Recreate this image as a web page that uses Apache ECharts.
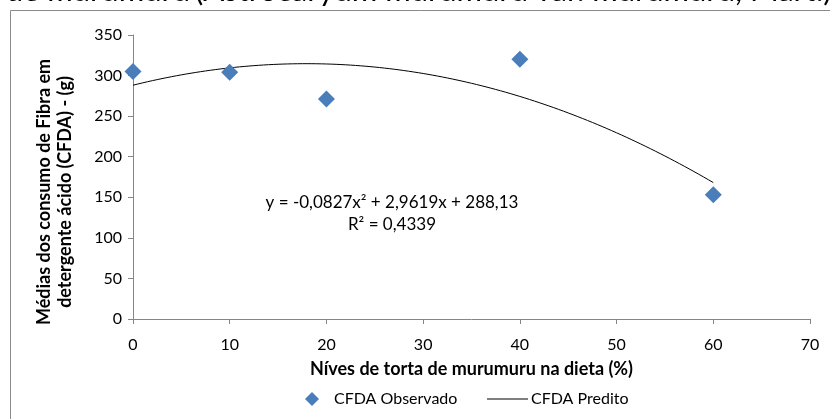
<!DOCTYPE html>
<html>
<head>
<meta charset="utf-8">
<script src="https://cdn.jsdelivr.net/npm/echarts@6/dist/echarts.min.js"></script>
<style>
  html, body { margin: 0; padding: 0; background: #fff; }
  #chart { width: 830px; height: 419px; }
</style>
</head>
<body>
<div id="chart"></div>
<script>
// Observed intake at each level of murumuru cake in the diet
const levels = [0, 10, 20, 40, 60];
const observed = [305, 304, 271, 320, 153];

// Quadratic regression shown on the chart: y = a*x^2 + b*x + c
const coefficients = [-0.0827, 2.9619, 288.13];
const rSquared = '0,4339';
const fitRange = [0, 60];

// Axis ticks
const xTicks = [0, 10, 20, 30, 40, 50, 60, 70];
const yTicks = [0, 50, 100, 150, 200, 250, 300, 350];

const FONT = 'Lato, "Open Sans", sans-serif';

// Predicted curve sampled from the regression coefficients
const predicted = [];
for (let x = fitRange[0]; x <= fitRange[1] + 1e-9; x += 0.5) {
  const [a, b, c] = coefficients;
  predicted.push([x, a * x * x + b * x + c]);
}

const fmt = v => String(v).replace('.', ',');
const eqText = 'y = ' + fmt(coefficients[0]) + 'x² + ' + fmt(coefficients[1]) +
  'x + ' + fmt(coefficients[2]) + '\nR² = ' + rSquared;

const chart = echarts.init(document.getElementById('chart'), null, { renderer: 'canvas' });

chart.setOption({
  backgroundColor: '#fff',
  animation: false,
  grid: { left: 133, right: 20, top: 35, bottom: 100, containLabel: false },
  xAxis: {
    type: 'value',
    min: xTicks[0], max: xTicks[xTicks.length - 1], interval: 10,
    name: 'Níves de torta de murumuru na dieta (%)',
    nameLocation: 'middle', nameGap: 41,
    nameTextStyle: { fontFamily: FONT, fontSize: 18, fontWeight: 'bold', color: '#000' },
    axisLine: { lineStyle: { color: '#868686', width: 1 } },
    axisTick: { show: true, length: 5, lineStyle: { color: '#868686' } },
    axisLabel: { fontFamily: FONT, fontSize: 16, color: '#000', margin: 18 },
    splitLine: { show: false }
  },
  yAxis: {
    type: 'value',
    min: yTicks[0], max: yTicks[yTicks.length - 1], interval: 50,
    axisLine: { show: true, lineStyle: { color: '#868686', width: 1 } },
    axisTick: { show: true, length: 5, lineStyle: { color: '#868686' } },
    axisLabel: { fontFamily: FONT, fontSize: 16, color: '#000', margin: 11 },
    splitLine: { show: false }
  },
  legend: [
    {
      data: [{ name: 'CFDA Observado', icon: 'diamond' }],
      left: 300, top: 386,
      itemWidth: 14, itemHeight: 14, itemGap: 6,
      textStyle: { fontFamily: FONT, fontSize: 16, color: '#000', padding: [0, 0, 0, 10] }
    },
    {
      data: [{ name: 'CFDA Predito', icon: 'rect' }],
      left: 482, top: 386,
      itemWidth: 41, itemHeight: 1,
      textStyle: { fontFamily: FONT, fontSize: 16, color: '#000', padding: [0, 0, 0, -2] }
    }
  ],
  graphic: [
    {
      type: 'rect', silent: true, z: -1,
      shape: { x: 10.5, y: 10.5, width: 1000, height: 600 },
      style: { fill: 'none', stroke: '#8a8a8a', lineWidth: 1 }
    },
    {
      type: 'text', silent: true,
      x: 190, y: -9,
      style: {
        text: 'torta de murumuru',
        fontFamily: FONT, fontSize: 31, fill: '#000',
        align: 'right', verticalAlign: 'middle'
      }
    },
    {
      type: 'text', silent: true,
      x: 195, y: -9,
      style: {
        text: '(Astrocaryum murumuru var. murumuru, Mart.)',
        fontFamily: FONT, fontSize: 31, fill: '#000',
        align: 'left', verticalAlign: 'middle'
      }
    },
    {
      type: 'text', silent: true,
      x: 55, y: 192, rotation: Math.PI / 2,
      style: {
        text: 'Médias dos consumo de Fibra em\ndetergente ácido (CFDA) - (g)',
        fontFamily: FONT, fontSize: 18, fontWeight: 'bold', fill: '#000',
        align: 'center', verticalAlign: 'middle', lineHeight: 21
      }
    },
    {
      type: 'text', silent: true,
      x: 392, y: 214,
      style: {
        text: eqText,
        fontFamily: FONT, fontSize: 17, fill: '#000',
        align: 'center', verticalAlign: 'middle', lineHeight: 22
      }
    }
  ],
  series: [
    {
      name: 'CFDA Observado',
      type: 'scatter',
      symbol: 'diamond',
      symbolSize: 17,
      itemStyle: { color: '#4a7ebb', opacity: 1 },
      data: levels.map((x, i) => [x, observed[i]]),
      z: 3
    },
    {
      name: 'CFDA Predito',
      type: 'line',
      showSymbol: false,
      symbol: 'none',
      smooth: false,
      lineStyle: { color: '#000', width: 1 },
      itemStyle: { color: '#000' },
      data: predicted,
      z: 2
    }
  ]
});
</script>
</body>
</html>
